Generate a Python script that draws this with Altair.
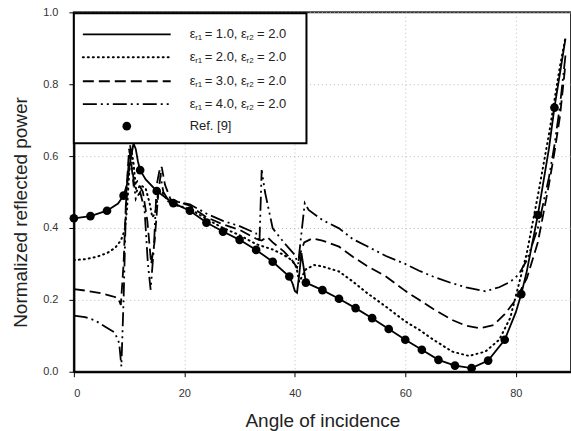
import altair as alt
import pandas as pd

# ---- data ----
ref_x = [0, 3, 6, 9, 12, 15, 18, 21, 24, 27, 30, 33, 36, 39, 42, 45, 48, 51, 54, 57,
         60, 63, 66, 69, 72, 75, 78, 81, 84, 87]
ref_y = [0.427, 0.433, 0.448, 0.490, 0.561, 0.503, 0.469, 0.448, 0.415, 0.390, 0.367,
         0.339, 0.306, 0.265, 0.248, 0.227, 0.203, 0.177, 0.149, 0.119, 0.089, 0.061,
         0.033, 0.017, 0.010, 0.031, 0.089, 0.216, 0.436, 0.735]

s1_x = [0, 3, 6, 8, 9, 9.6, 10.2, 10.8, 11.2, 11.6, 12, 13, 15, 18, 21, 24, 27, 30, 33, 36,
        39, 39.6, 40, 40.4, 40.8, 41.2, 41.6, 42, 45, 48, 51, 54, 57, 60, 63, 66, 69, 72,
        75, 78, 80, 81, 82, 84, 86, 87, 88, 89]
s1_y = [0.427, 0.433, 0.448, 0.468, 0.490, 0.520, 0.585, 0.635, 0.620, 0.585, 0.561, 0.535,
        0.503, 0.469, 0.448, 0.415, 0.390, 0.367, 0.339, 0.306, 0.265, 0.245, 0.225, 0.220,
        0.270, 0.330, 0.290, 0.248, 0.227, 0.203, 0.177, 0.149, 0.119, 0.089, 0.061, 0.033,
        0.017, 0.010, 0.031, 0.089, 0.165, 0.216, 0.280, 0.436, 0.620, 0.735, 0.830, 0.927]

s2_x = [0, 2, 4, 6, 7.5, 8.5, 9.2, 9.6, 10, 10.4, 10.8, 11.3, 12, 13, 13.7, 14.2, 14.7, 15.3,
        16, 17, 18, 21, 24, 27, 30, 33, 36, 38, 39.5, 40.3, 40.8, 41.3, 42, 43.5, 45, 48,
        50.5, 53, 56.5, 60, 62.5, 65, 68.5, 71.5, 74.5, 77, 79, 80, 82, 84, 86, 88, 89]
s2_y = [0.311, 0.313, 0.319, 0.330, 0.345, 0.365, 0.394, 0.450, 0.550, 0.620, 0.580, 0.500,
        0.520, 0.510, 0.470, 0.430, 0.440, 0.500, 0.500, 0.475, 0.465, 0.453, 0.425, 0.400,
        0.380, 0.355, 0.340, 0.325, 0.310, 0.290, 0.250, 0.265, 0.285, 0.297, 0.293, 0.279,
        0.251, 0.220, 0.181, 0.140, 0.117, 0.090, 0.056, 0.044, 0.056, 0.089, 0.150, 0.210,
        0.330, 0.490, 0.660, 0.850, 0.930]

s3_x = [0, 2, 5, 7, 8, 8.5, 9, 9.5, 10, 10.4, 10.8, 11.5, 12.5, 13.3, 14, 14.6, 15.3, 15.9,
        16.5, 17.5, 21, 24, 27, 30, 33, 34, 35, 36, 38, 39.5, 40.4, 41, 41.7, 43.2, 45, 48,
        50.5, 53, 56.5, 60, 62.5, 65, 68.5, 71, 73.5, 76, 78, 80, 81, 82, 84, 86, 87, 88, 89]
s3_y = [0.230, 0.226, 0.218, 0.210, 0.205, 0.186, 0.300, 0.500, 0.620, 0.580, 0.520, 0.530,
        0.500, 0.420, 0.300, 0.360, 0.500, 0.570, 0.520, 0.480, 0.462, 0.430, 0.410, 0.395,
        0.370, 0.365, 0.375, 0.360, 0.335, 0.310, 0.290, 0.330, 0.360, 0.371, 0.365, 0.348,
        0.320, 0.295, 0.265, 0.225, 0.200, 0.175, 0.144, 0.128, 0.121, 0.130, 0.160, 0.200,
        0.230, 0.260, 0.360, 0.520, 0.610, 0.710, 0.857]

s4_x = [0, 2, 3.8, 5.6, 7.4, 8.2, 8.6, 9, 9.5, 10.2, 10.7, 11.2, 12, 12.8, 13.4, 13.9, 14.5,
        15, 15.5, 16.2, 17, 18, 21, 24, 27, 30, 33, 33.6, 34, 34.6, 36, 38, 40, 40.6, 41.3,
        41.8, 42.5, 45, 48, 50.5, 53, 56.5, 60, 62.5, 65, 68.5, 71, 74.5, 77, 79, 80.5, 82,
        84, 85, 86, 87, 88, 89]
s4_y = [0.156, 0.152, 0.143, 0.126, 0.109, 0.080, 0.015, 0.200, 0.500, 0.630, 0.550, 0.480,
        0.500, 0.450, 0.300, 0.228, 0.350, 0.520, 0.560, 0.500, 0.480, 0.475, 0.466, 0.440,
        0.420, 0.405, 0.385, 0.360, 0.561, 0.500, 0.399, 0.360, 0.325, 0.300, 0.400, 0.469,
        0.450, 0.422, 0.399, 0.369, 0.350, 0.322, 0.300, 0.281, 0.265, 0.246, 0.235, 0.224,
        0.235, 0.250, 0.270, 0.310, 0.400, 0.470, 0.540, 0.630, 0.740, 0.880]

x_ticks = [0, 20, 40, 60, 80]
y_ticks = [0.0, 0.2, 0.4, 0.6, 0.8, 1.0]
legend_values = ["1.0", "2.0", "3.0", "4.0"]

# ---- styles ----
dash_styles = [None, [1, 4], [11, 5], [14, 4, 2, 4, 2, 4]]
FONT = "Liberation Sans"

xs = alt.Scale(domain=[0, 90], nice=False, zero=False)
ys = alt.Scale(domain=[0, 1], nice=False, zero=False)

x_axis = alt.Axis(values=x_ticks, format="d", title="Angle of incidence",
                  grid=True, gridDash=[1, 3], gridColor="#bbbbbb", gridWidth=1,
                  tickSize=5, tickColor="black", domainColor="black", domainWidth=2,
                  labelFontSize=11, labelColor="#333333", labelPadding=11, labelFont=FONT,
                  titleFont=FONT, titleFontSize=19, titleFontWeight="normal",
                  titleColor="#222222", titleX=249, titleY=49, titleBaseline="middle",
                  titleAlign="center")
y_axis = alt.Axis(values=y_ticks, format=".1f", title="Normalized reflected power",
                  grid=True, gridDash=[1, 3], gridColor="#bbbbbb", gridWidth=1,
                  tickSize=5, tickColor="black", domainColor="black", domainWidth=2,
                  labelFontSize=11, labelColor="#333333", labelPadding=11, labelFont=FONT,
                  titleFont=FONT, titleFontSize=19, titleFontWeight="normal",
                  titleColor="#222222", titleX=-53, titleY=200, titleBaseline="middle",
                  titleAlign="center", titleAngle=270)

series = [(s1_x, s1_y), (s2_x, s2_y), (s3_x, s3_y), (s4_x, s4_y)]
layers = []
for i, (sx, sy) in enumerate(series):
    df = pd.DataFrame({"angle": sx, "power": sy})
    kw = dict(color="black", strokeWidth=1.8, clip=True)
    if dash_styles[i] is not None:
        kw["strokeDash"] = dash_styles[i]
    if i == 1:
        kw["strokeCap"] = "round"
        kw["strokeWidth"] = 2
    enc = dict(x=alt.X("angle:Q", scale=xs, axis=x_axis),
               y=alt.Y("power:Q", scale=ys, axis=y_axis))
    layers.append(alt.Chart(df).mark_line(**kw).encode(**enc))

ref_df = pd.DataFrame({"angle": ref_x, "power": ref_y})
layers.append(alt.Chart(ref_df).mark_circle(color="black", opacity=1, size=75).encode(
    x=alt.X("angle:Q", scale=xs, axis=x_axis), y=alt.Y("power:Q", scale=ys, axis=y_axis)))

# ---- legend (hand-drawn box) ----
one = alt.Data(values=[{}])
layers.append(alt.Chart(one).mark_rect(fill="white", stroke="black", strokeWidth=2).encode(
    x=alt.value(0), x2=alt.value(233), y=alt.value(1), y2=alt.value(131)))
leg_y = [22, 45, 69, 92]
for i in range(4):
    kw = dict(color="black", strokeWidth=1.8)
    if dash_styles[i] is not None:
        kw["strokeDash"] = dash_styles[i]
    if i == 1:
        kw["strokeCap"] = "round"
        kw["strokeWidth"] = 2
    layers.append(alt.Chart(one).mark_rule(**kw).encode(
        x=alt.value(9), x2=alt.value(97), y=alt.value(leg_y[i])))
    pieces = [("ε", 116, 0, 13), ("r1", 121.5, 4, 8), ("= " + legend_values[i] + ",", 131, 0, 13),
              ("ε", 167.5, 0, 13), ("r2", 173, 4, 8), ("= 2.0", 183.5, 0, 13)]
    for txt, px, dy, fs in pieces:
        layers.append(alt.Chart(one).mark_text(
            text=txt, align="left", baseline="middle", font=FONT, fontSize=fs,
            color="#222222", dy=dy).encode(x=alt.value(px), y=alt.value(leg_y[i])))
layers.append(alt.Chart(one).mark_circle(color="black", opacity=1, size=75).encode(
    x=alt.value(53), y=alt.value(114)))
layers.append(alt.Chart(one).mark_text(
    text="Ref. [9]", align="left", baseline="middle", font=FONT, fontSize=13,
    color="#222222").encode(x=alt.value(116), y=alt.value(114)))

chart = alt.layer(*layers).properties(
    width=498, height=360,
    autosize=alt.AutoSizeParams(type="none"),
    padding={"left": 74, "top": 12, "right": 0, "bottom": 59},
    background="white",
).configure_view(stroke="#333333", strokeWidth=2)

chart.save("out.html", embed_options={"renderer": "svg", "actions": False})
